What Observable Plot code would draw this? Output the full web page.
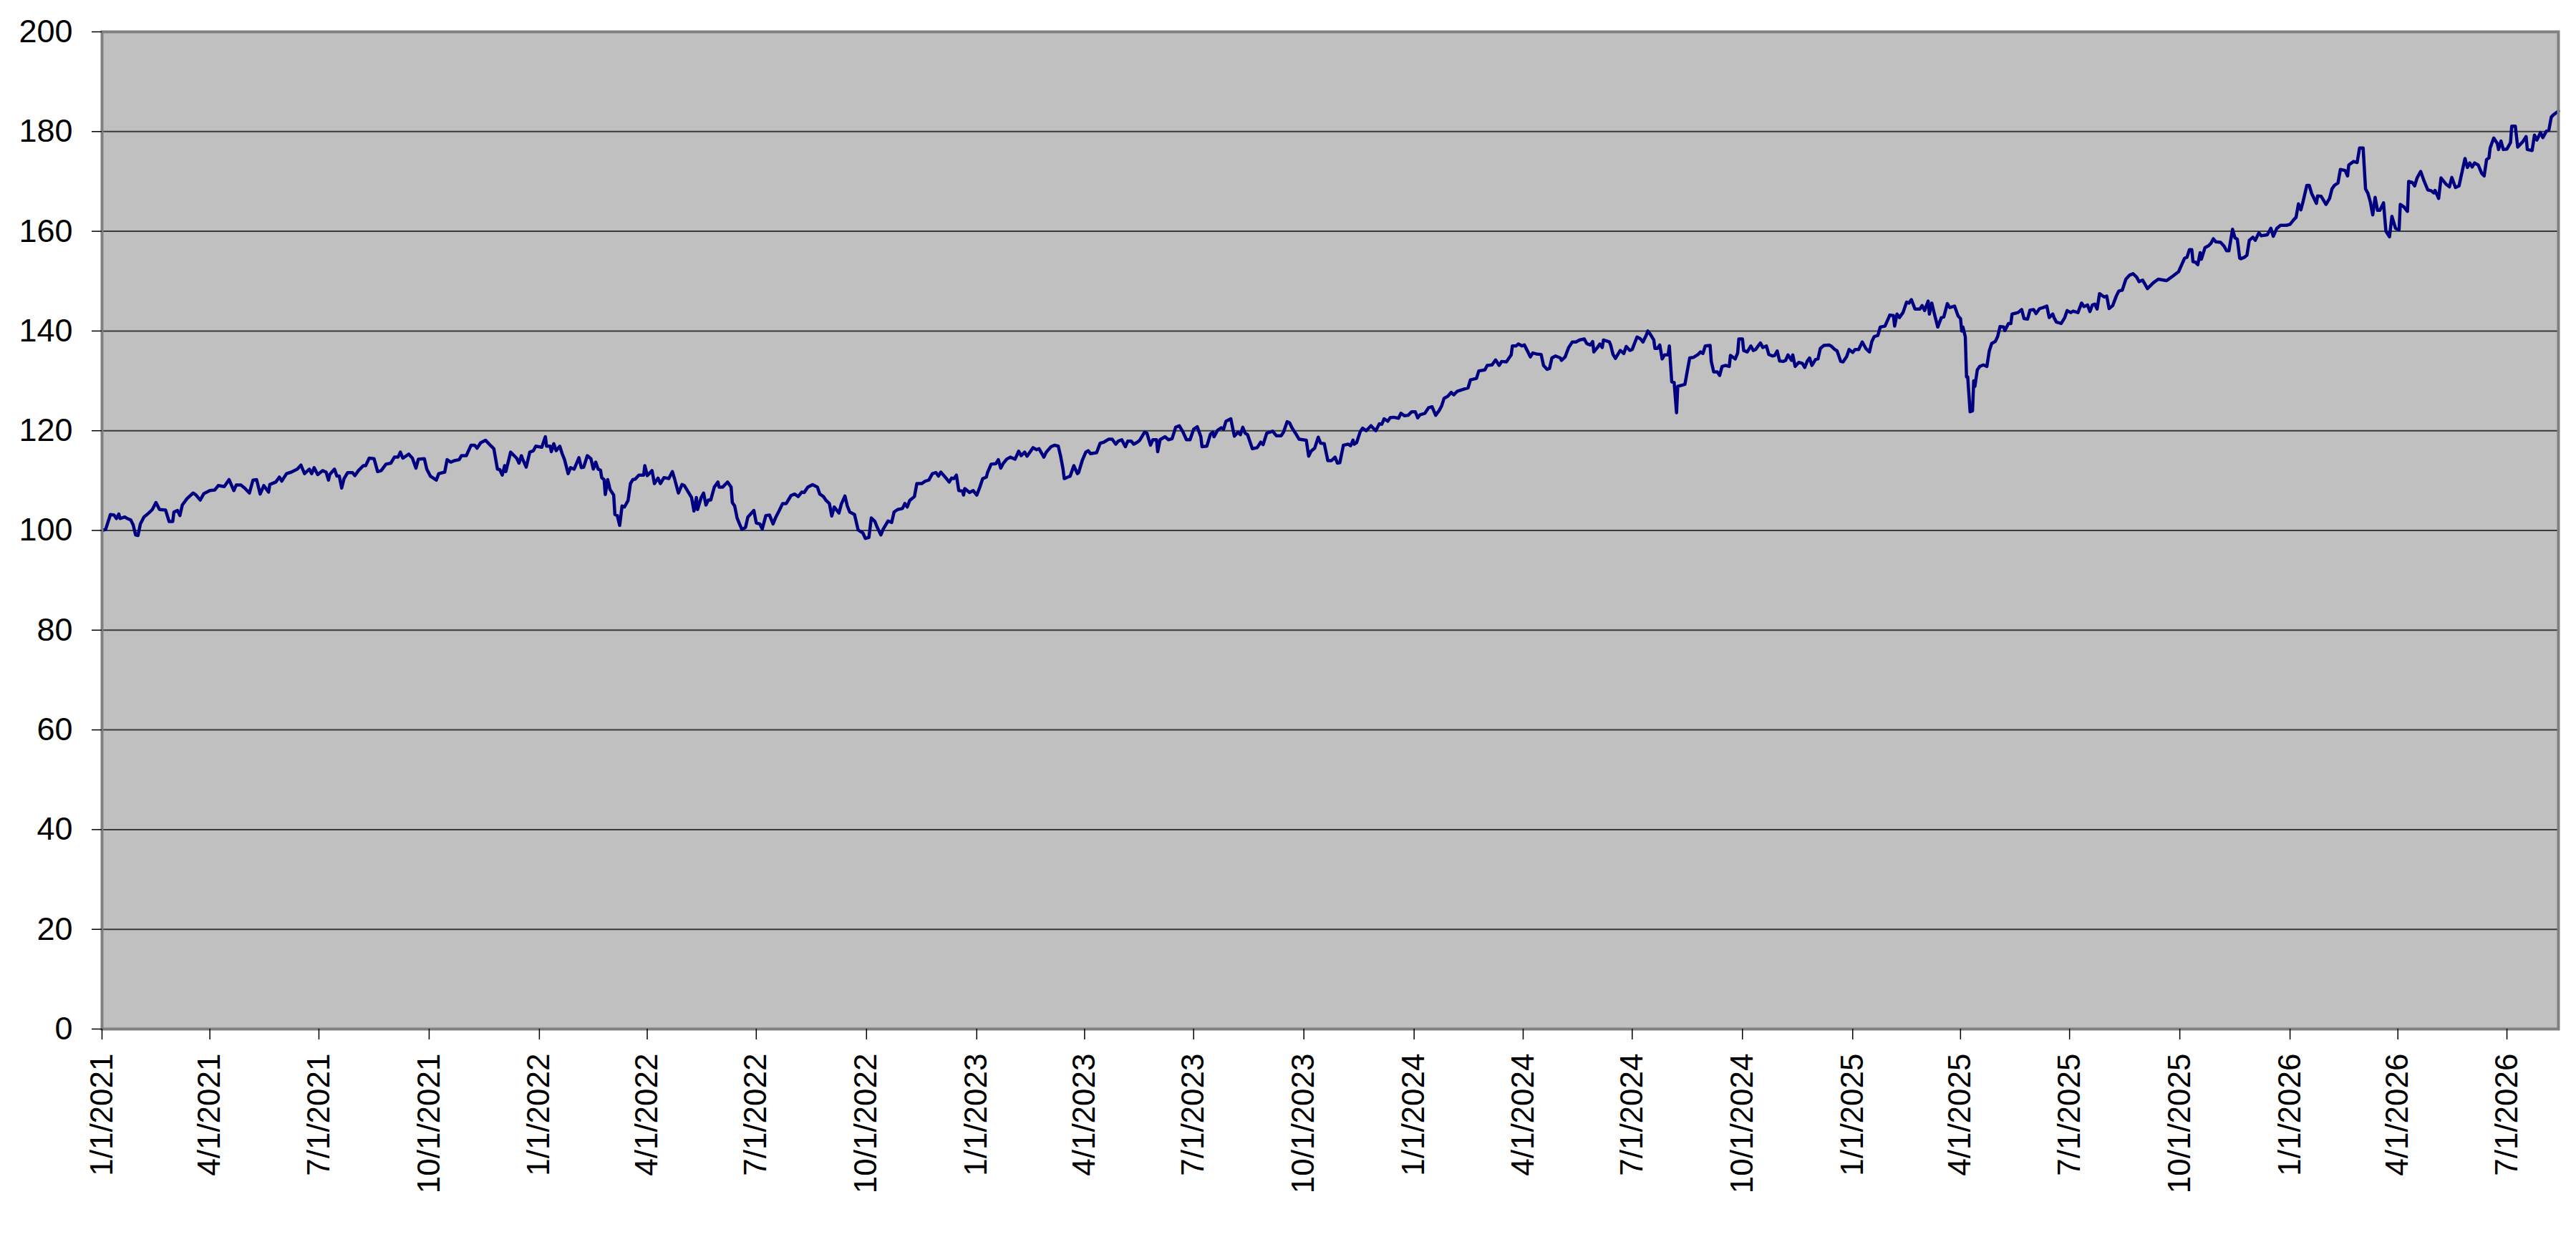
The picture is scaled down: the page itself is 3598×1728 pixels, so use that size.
<!DOCTYPE html>
<html><head><meta charset="utf-8">
<script src="https://cdn.jsdelivr.net/npm/d3@7"></script>
<script src="https://cdn.jsdelivr.net/npm/@observablehq/plot@0.6"></script>
<style>html,body{margin:0;padding:0;background:#fff;} svg{display:block}</style>
</head><body><div id="chart"></div>
<script>
const startDate = "2021-01-01";
const dayOffsets = [
0,3,7,10,12,14,15,19,21,24,26,28,30,32,35,39,42,45,48,53,56,59,60,63,65,67,71,76,78,82,85,90,94,97,102,106,110,112,116,119,123,126,129,132,135,139,140,145,148,150,154,158,163,166,169,173,175,177,180,184,187,189,190,194,196,198,200,202,205,209,211,214,218,220,223,227,230,233,237,241,244,247,249,251,256,259,262,264,269,271,274,279,281,286,288,291,294,298,300,304,308,311,313,316,320,324,327,330,332,334,336,337,341,
346,348,350,351,354,357,360,362,367,370,371,374,375,377,379,382,384,386,389,391,394,398,400,402,405,408,410,412,414,416,417,419,420,422,424,427,428,430,432,434,436,439,441,443,445,448,452,453,455,459,461,464,466,469,473,476,478,481,484,486,488,492,494,496,497,500,502,504,506,508,511,514,515,518,522,525,526,528,530,532,534,537,539,544,546,549,551,554,557,560,562,565,568,571,575,578,581,584,586,589,593,597,599,602,604,607,609,611,615,617,620,622,624,628,631,635,637,640,642,645,647,650,652,656,659,661,664,668,670,672,674,678,680,684,687,690,
693,696,698,700,704,707,709,711,713,715,718,719,720,724,727,730,732,735,738,739,742,746,748,750,752,755,758,762,765,767,770,772,777,780,782,786,788,792,795,798,800,802,803,806,808,811,814,815,818,821,823,825,830,833,836,840,843,846,848,851,854,856,859,861,864,866,870,872,875,877,880,881,883,887,890,893,896,899,902,905,908,911,914,917,918,922,925,927,928,931,934,936,938,942,945,948,950,952,954,956,960,964,967,969,972,977,980,984,986,989,991,993,996,999,1002,1005,1007,1009,1012,1015,1017,1020,1023,1026,1029,1031,1033,1036,
1040,1042,1044,1045,1047,1050,1052,1055,1059,1063,1066,1068,1070,1073,1075,1078,1082,1084,1087,1090,1093,1096,1098,1100,1104,1107,1110,1113,1116,1118,1120,1123,1126,1128,1131,1136,1140,1142,1147,1149,1154,1156,1160,1163,1166,1168,1172,1176,1177,1180,1182,1185,1187,1190,1192,1194,1197,1201,1203,1206,1208,1210,1213,1217,1218,1221,1224,1227,1230,1233,1237,1239,1242,1244,1245,1248,1250,1252,1253,1258,1259,1261,1263,1265,1267,1270,1272,1275,1277,1281,1284,1286,1289,1290,1292,1295,1296,1298,1300,1302,1304,1307,1308,1310,1312,1314,1315,1318,1321,1323,1325,1328,1332,1334,1336,1338,1342,1343,1345,1348,1350,1352,1355,1358,1359,1363,1365,1366,1369,1370,1373,1376,1378,1380,1384,
1386,1389,1391,1394,1396,1398,1400,1403,1405,1407,1410,1411,1413,1416,1419,1421,1423,1425,1427,1430,1432,1434,1437,1441,1443,1446,1448,1451,1453,1456,1458,1461,1463,1466,1469,1472,1475,1477,1479,1482,1484,1488,1492,1495,1496,1498,1500,1503,1506,1508,1510,1513,1517,1519,1521,1524,1525,1527,1529,1532,1535,1537,1540,1542,1546,1549,1551,1552,1553,1555,1556,1557,1559,1561,1562,1563,1565,1567,1570,1573,1575,1577,1580,1582,1584,1587,1588,1591,1593,1594,1599,1602,1604,1607,1609,1612,1614,1617,1620,1623,1625,1628,1629,1631,1635,1638,1640,1643,1645,1649,1652,1654,1657,1659,1661,1663,1665,1667,1671,1673,1675,1678,1681,1683,1686,1689,1692,1695,1698,1700,1703,1707,1712,1716,1723,1727,
1733,1735,1738,1740,1742,1744,1745,1747,1749,1751,1752,1755,1758,1760,1762,1764,1768,1771,1773,1775,1778,1780,1782,1784,1785,1788,1790,1792,1795,1797,1800,1802,1807,1810,1812,1815,1818,1823,1826,1829,1831,1833,1835,1837,1840,1842,1844,1848,1849,1852,1856,1859,1861,1863,1866,1868,1872,1874,1875,1879,1882,1884,1887,1889,1891,1893,1895,1897,1899,1901,1904,1906,1909,1911,1914,1917,1918,1921,1924,1925,1928,1930,1932,1935,1938,1941,1944,1946,1947,1950,1952,1956,1959,1961,1964,1967,1970,1972,1974,1976,1978,1980,1983,1986,1988,1990,1992,1993,1996,1999,2000,2002,2004,2007,2010,2011,2014,2016,2020,2023,2024,2028,2030,2032,2035,2037,2040,2042,2044,2046,2050
];
const values = [
100,100.2,103.2,103.1,102.4,103.3,102.4,102.7,102.4,102.1,101.1,99.1,99,101.3,102.7,103.5,104.2,105.6,104.2,104.1,101.8,101.8,103.7,104,103,105.1,106.4,107.5,107.2,106.1,107.4,108,108.1,109,108.8,110.2,108,109.1,109.1,108.5,107.5,110.1,110.2,107.3,109,107.7,109.2,109.7,110.7,109.9,111.4,111.7,112.3,113.1,111.4,112.3,111.4,112.6,111.2,112,111.7,110.1,111.2,112.3,110.9,110.9,108.5,110.4,111.6,111.6,111,112,113,113,114.5,114.4,111.8,112,113.3,113.5,114.7,114.7,115.7,114.5,115.3,114.5,112.5,114.3,114.4,112.3,110.9,110.1,111.4,111.7,114.2,113.7,114,114.2,115,115,117.1,117.1,116.5,117.6,118.1,117.1,116.4,112.3,112.2,111.1,113,111.8,115.7,
114.5,113.5,115,114.3,112.7,115.7,116,116.9,116.7,118.8,116.9,116.9,115.8,117.4,116,116.9,115.4,114.2,111.4,112.6,112.3,114.6,112.6,112.7,115,114.4,112.3,113.7,112.3,112.1,110.6,110.2,107.2,110.2,108.2,107.1,103.2,103,101,104.9,104.7,106,109.4,110.2,110.3,111.1,111.1,113,111,112,109.4,110.5,109.4,110.6,110.4,111.8,110.2,107.5,109.2,109,108.2,106.6,103.9,106.6,104.2,106.6,107.5,105.1,106.1,106.1,108.7,109.7,108.7,108.7,109.7,108.7,105.6,104.9,102.5,101.3,100.2,100.6,102.7,104,101.5,101.3,100.3,103,103.1,101.3,102.5,103.9,105.4,105.4,107,107.3,106.8,107.7,107.6,108.7,109.2,108.7,107.3,106.8,106.1,105.4,102.9,104.7,103.5,105.3,106.9,104.9,103.7,103.2,100.1,99.5,98.4,98.6,102.5,101.8,100.6,99.1,100.3,101.9,101.6,103.7,104.2,104.4,105.4,104.7,106,106.8,109.4,109.4,109.9,110.1,
111.4,111.6,110.9,111.7,110.6,109.7,110.5,110.4,111.1,108,107.9,107.1,108.4,107.6,108,107.1,108.3,110.4,110.7,111.6,113.3,113.4,114.2,112.5,113.4,114.3,114.7,114.3,115.9,115,115.7,114.9,116.6,116.2,116.4,114.7,115.7,116.8,117.1,116.9,114.9,112.3,110.4,110.7,110.9,113,111.4,111.6,114,115.7,116,115.4,115.6,117.5,117.7,118.3,118.3,117.3,117.9,118.2,116.8,117.9,117.9,117.3,117.7,118.1,119.7,119.5,117.1,118.2,118.2,115.8,118.2,118.8,118.2,118.4,120.7,121,119.8,118.2,118.2,120.3,120.8,118.8,116.8,116.9,119.3,119.7,118.8,120.1,120.6,120.3,121.9,122.4,118.9,119.7,119.2,120.7,119.5,119.2,116.4,116.6,117.7,117.2,119.5,119.9,119,119,119.7,121.8,121.6,120.6,119.5,118.3,118.2,118.1,114.9,115.9,116.5,118.7,117.5,117.4,114,114,114.7,113.5,113.6,117.1,
117.3,117,118.1,117.3,117.6,119.8,120.5,120,121,120,121.4,121.3,122.4,121.9,122.6,122.7,122.5,123.5,123,123.1,123.8,123.8,122.6,123.2,123.5,124.6,124.8,123.1,124.1,125,126.5,126.9,127.7,127.2,127.9,128.3,128.6,130.2,130.5,132,132.2,133.1,133.2,134.2,133.1,133.9,133.8,135.2,137,137,137.4,137,137.2,135.8,134.8,135.6,135.4,135.3,133.1,132.3,132.5,134.6,135,134.6,134.1,134.8,136.7,137.8,137.8,138.2,138.4,137.5,137.2,137.9,135.8,136.7,137.4,136.7,138.2,137.8,137.2,135.3,134.5,135.3,136.1,135.5,136.9,136.1,136.3,138.8,138.4,137.8,139.3,140,139.4,138.2,136.5,136.5,137.2,134.4,135.2,135.2,137,129.8,129.7,123.6,128.9,129.1,129.3,132,134.6,134.7,135.3,135.8,135.5,137,137.1,133.9,131.8,131.8,131.1,132.9,133.1,132.9,135.1,134.4,135.6,138.4,138.4,136.1,135.8,137,136.1,136.3,137.6,
136.7,137,135.3,135,135.1,136,134,133.9,134.1,135.2,134.1,135.2,132.9,133.7,133.5,132.7,133.9,134.6,133.1,134.3,134.4,136.5,137.1,137.2,137,136.3,136,133.9,133.8,134.9,136.3,135.7,136.3,136.3,137.8,136.5,135.8,137.9,138.9,139.1,140.8,141,143.2,143.1,141,143.4,142.7,143.7,145.8,145.6,146.3,144.4,144.4,145.1,144.1,146,143.4,145.6,143.6,140.8,142.7,142.8,145.5,144.7,145,143,142.5,140,140.8,138.8,130.8,130.8,123.8,124,130,128.9,132.2,132.9,133.2,132.9,136,137.5,137.9,138.9,140.9,140.8,140.1,141.5,141.5,143.4,143.7,144.3,142.5,142.4,144.2,144.3,143.5,144.5,144.7,145,142.7,143.4,142.7,141.8,141.5,142.7,144.1,143.7,144,143.7,145.6,144.9,145.2,143.9,145.2,145.4,144.4,147.5,146.8,147,144.5,145.1,147,148,148.2,150.4,151.2,151.5,150.8,149.9,150.2,148.5,149.7,150.4,150.1,150.8,
151.9,153,154.6,154.8,156.3,156.3,153.9,153.8,153.3,155.7,154.4,156.7,157.1,157.6,158.5,157.9,157.8,157,156.1,156.1,160.4,158.7,158.4,154.6,154.5,154.8,155.2,158.2,158.8,158.2,159.7,159.1,159.3,160.6,159,160.6,161.2,161.2,161.4,162.3,162.8,165.5,164.3,166.1,169.2,169.2,167.6,165.6,167.1,167,165.4,166.6,168.5,169.2,169.7,172.4,172.2,171.1,173.3,174,173.8,176.7,176.7,168.5,167.6,165.9,163.3,166.8,164.2,164.2,165.7,160,158.9,163,160.6,160.3,165.4,164.9,164,170,169.8,169.1,170.7,172,170,168.3,168.1,167.7,168.2,166.6,170.7,169.5,168.9,170.8,168.8,169.1,172.4,174.6,172.8,173.7,172.9,173.7,173.3,171.6,171.1,174.4,174.7,176.7,178.7,177.6,176.4,178.1,176.4,176.5,177.8,181.1,181.1,176.9,177.9,179,176.4,176.2,179.3,178.3,179.8,178.8,180.1,180.3,182.9,183.4,184.1
];
const tickDates = ["2021-01-01","2021-04-01","2021-07-01","2021-10-01","2022-01-01","2022-04-01","2022-07-01","2022-10-01","2023-01-01","2023-04-01","2023-07-01","2023-10-01","2024-01-01","2024-04-01","2024-07-01","2024-10-01","2025-01-01","2025-04-01","2025-07-01","2025-10-01","2026-01-01","2026-04-01","2026-07-01"];
const yTicks = [0,20,40,60,80,100,120,140,160,180,200];

const t0 = new Date(startDate + "T00:00:00Z");
const data = dayOffsets.map((d, i) => ({date: d3.utcDay.offset(t0, d), value: values[i]}));
const xTicks = tickDates.map(s => new Date(s + "T00:00:00Z"));
const fmt = d3.utcFormat("%-m/%-d/%Y");

const chart = Plot.plot({
  width: 3598, height: 1728,
  marginLeft: 142, marginRight: 25, marginTop: 44, marginBottom: 291,
  style: {fontFamily: "'Liberation Sans', Arial, sans-serif", fontSize: "44px", background: "#fff", color: "#000", overflow: "visible"},
  x: {type: "utc", domain: [data[0].date, data[data.length - 1].date]},
  y: {domain: [0, 200]},
  marks: [
    Plot.frame({fill: "#C0C0C0", stroke: null}),
    Plot.gridY(yTicks.slice(1, -1), {stroke: "#3a3a3a", strokeOpacity: 1, strokeWidth: 2}),
    Plot.lineY(data, {x: "date", y: "value", stroke: "#000080", strokeWidth: 4.5}),
    Plot.frame({stroke: "#808080", strokeWidth: 4}),
    Plot.axisY(yTicks, {tickSize: 14, tickPadding: 27, stroke: "#000", strokeWidth: 1.5, fontSize: 45, label: null}),
    Plot.axisX(xTicks, {tickSize: 15, tickRotate: -90, tickPadding: 19, tickFormat: fmt, stroke: "#000", strokeWidth: 1.5, fontSize: 44, label: null})
  ]
});
document.getElementById("chart").appendChild(chart);
</script>
</body></html>
